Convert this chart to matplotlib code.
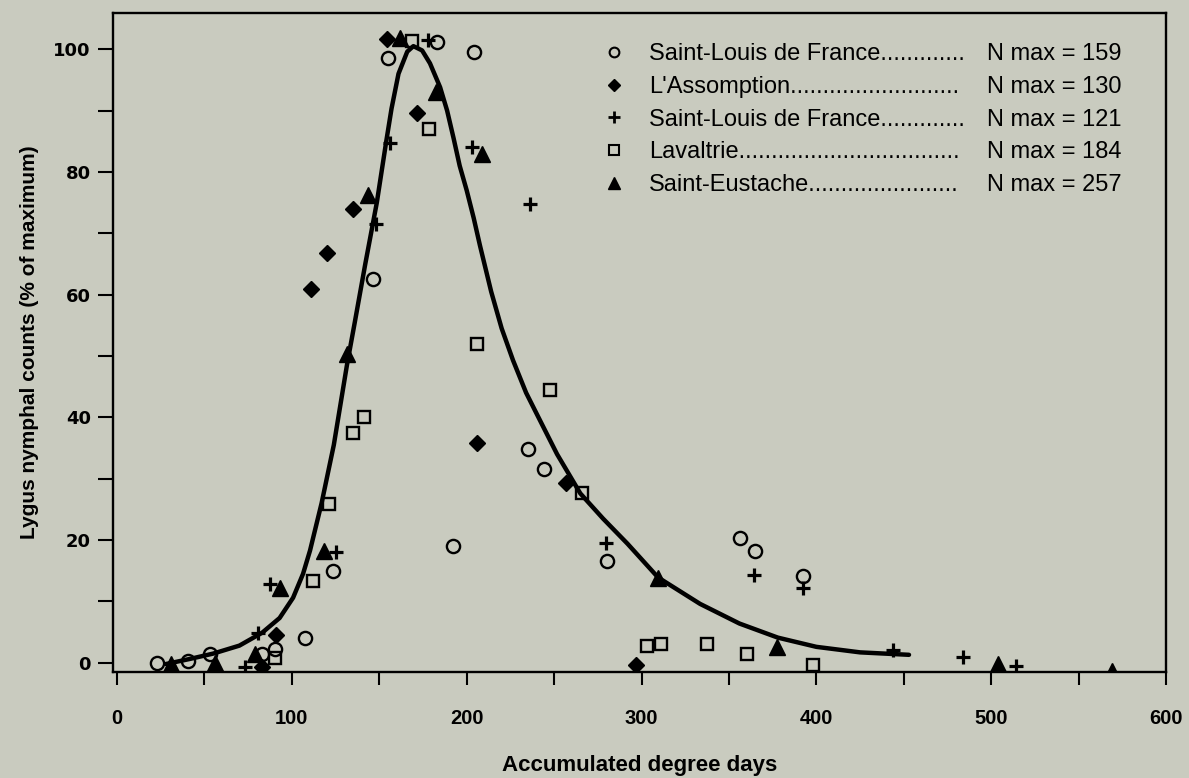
import matplotlib
matplotlib.use('Agg')
import matplotlib.pyplot as plt
from matplotlib.ticker import MultipleLocator
from matplotlib.lines import Line2D

# Saint-Louis de France, N max = 159 (open circles)
circle_x = [22.7, 40.7, 53, 82.8, 90.4, 107.5, 123.4, 146.3, 155, 183, 192, 204.4, 235, 244, 280.5, 356.4, 365, 392.6]
circle_y = [-0.1, 0.3, 1.5, 1.5, 2.3, 4.1, 14.9, 62.5, 98.5, 101.2, 19.1, 99.6, 34.9, 31.6, 16.6, 20.3, 18.3, 14.2]

# L'Assomption, N max = 130 (filled diamonds)
diamond_x = [82.8, 91, 110.8, 120.3, 135.2, 154.3, 171.4, 206, 257, 297]
diamond_y = [-0.7, 4.6, 60.9, 66.8, 74, 101.6, 89.6, 35.8, 29.3, -0.3]

# Saint-Louis de France, N max = 121 (plus)
plus_x = [73, 80.7, 87.5, 125, 148, 156, 178, 203, 236, 279.7, 364.6, 392.6, 443.7, 484, 514]
plus_y = [-0.7, 4.9, 12.9, 18.1, 71.5, 84.7, 101.5, 84, 74.7, 19.6, 14.3, 12.2, 2.1, 1, -0.5]

# Lavaltrie, N max = 184 (open squares)
square_x = [90.4, 112, 121, 135, 141, 168.5, 178.7, 206, 247.7, 265.8, 303.4, 311, 337.7, 360.6, 398]
square_y = [0.7, 13.4, 25.8, 37.4, 40, 101.4, 87, 51.9, 44.5, 27.6, 2.8, 3.1, 3.1, 1.5, -0.3]

# Saint-Eustache, N max = 257 (filled triangles)
triangle_x = [31, 56, 79, 93, 118.4, 131.4, 143.8, 162, 182.5, 208.6, 309.7, 377.4, 504, 569]
triangle_y = [-0.2, 0, 1.5, 12.2, 18.3, 50.4, 76.2, 101.8, 93, 83, 13.9, 2.5, -0.2, -1.3]

# fitted curve
curve_x = [28, 42, 55, 70, 83, 93, 100.7, 106.4, 110.4, 117, 124, 131.5, 136, 142, 148.6, 154, 157, 161,
           166, 169.5, 174.5, 179, 184.8, 188.8, 192.5, 196, 200, 204, 207.6, 214, 220, 226.5, 234, 240,
           251.7, 265, 278, 292, 309.5, 333.5, 356, 378, 400, 425, 453]
curve_y = [-0.2, 0.65, 1.5, 2.8, 4.9, 7.3, 10.6, 14.5, 18.3, 26, 35.5, 48.5, 55.5, 65, 75, 85, 90.3, 96,
           99.6, 100.5, 99.8, 97.7, 93.8, 90, 85.5, 81, 77, 72.5, 68, 60.5, 54.5, 49.3, 44, 40.6,
           34, 27.6, 23.5, 19.4, 13.9, 9.6, 6.4, 4.1, 2.6, 1.7, 1.3]

x_ticks = [0, 100, 200, 300, 400, 500, 600]
y_ticks = [0, 20, 40, 60, 80, 100]

site_names = ['Saint-Louis de France', "L'Assomption", 'Saint-Louis de France', 'Lavaltrie', 'Saint-Eustache']
site_dots = [13, 26, 13, 34, 23]
n_max = [159, 130, 121, 184, 257]

plt.rcParams['font.family'] = ['Liberation Sans', 'DejaVu Sans']
bg = '#c9cbbf'

fig = plt.figure(figsize=(11.89, 7.78), dpi=100, facecolor=bg)
ax = fig.add_axes([0.09504, 0.13625, 0.88562, 0.84704])
ax.set_facecolor(bg)

ax.plot(curve_x, curve_y, color='black', lw=3.2, solid_capstyle='round', zorder=2)

ax.plot(circle_x, circle_y, ls='none', marker='o', ms=9.5, mfc='none', mec='black', mew=1.7, zorder=3)
ax.plot(diamond_x, diamond_y, ls='none', marker='D', ms=8.5, color='black', zorder=3)
ax.plot(plus_x, plus_y, ls='none', marker='+', ms=10, mec='black', mew=2.3, zorder=3)
ax.plot(square_x, square_y, ls='none', marker='s', ms=8.5, mfc='none', mec='black', mew=1.7, zorder=3)
ax.plot(triangle_x, triangle_y, ls='none', marker='^', ms=11, color='black', zorder=3)

ax.set_xlim(-2.3, 600)
ax.set_ylim(-1.5, 105.9)

ax.set_xticks(x_ticks, labels=[str(v) for v in x_ticks], fontsize=14.5, fontweight='bold',
              family='Liberation Sans')
ax.set_yticks(y_ticks, labels=[str(v) for v in y_ticks], fontsize=13, fontweight='bold',
              family='DejaVu Sans')
ax.xaxis.set_minor_locator(MultipleLocator(50))
ax.yaxis.set_minor_locator(MultipleLocator(10))
ax.tick_params(axis='x', which='both', direction='out', length=9.5, width=1.5, pad=17, top=False)
ax.tick_params(axis='y', which='both', direction='out', length=11, width=1.5, pad=5, right=False)

for sp in ax.spines.values():
    sp.set_linewidth(1.7)

ax.set_xlabel('Accumulated degree days', fontsize=16, fontweight='bold', va='bottom')
ax.xaxis.set_label_coords(0.5, -0.1585)
ax.set_ylabel('Lygus nymphal counts (% of maximum)', fontsize=15, fontweight='bold')
ax.yaxis.set_label_coords(-0.0703, 0.5)

# legend: markers + names with dot leaders, then N max column
handles = [
    Line2D([], [], ls='none', marker='o', ms=7, mfc='none', mec='black', mew=1.5),
    Line2D([], [], ls='none', marker='D', ms=6.5, color='black'),
    Line2D([], [], ls='none', marker='+', ms=8, mec='black', mew=2),
    Line2D([], [], ls='none', marker='s', ms=6.5, mfc='none', mec='black', mew=1.5),
    Line2D([], [], ls='none', marker='^', ms=8.5, color='black'),
]
labels = [name + '.' * n for name, n in zip(site_names, site_dots)]
leg1 = ax.legend(handles, labels, loc='upper left', bbox_to_anchor=(0.4649, 0.954), frameon=False,
                 fontsize=17, handlelength=0.97, handletextpad=1.0, borderpad=0, borderaxespad=0,
                 labelspacing=0.45)
ax.add_artist(leg1)
blank = [Line2D([], [], ls='none') for _ in n_max]
ax.legend(blank, ['N max = %d' % n for n in n_max], loc='upper left', bbox_to_anchor=(0.830, 0.954),
          frameon=False, fontsize=17, handlelength=0, handletextpad=0, borderpad=0, borderaxespad=0,
          labelspacing=0.45)

fig.savefig('out.png', dpi=100, facecolor=bg)
